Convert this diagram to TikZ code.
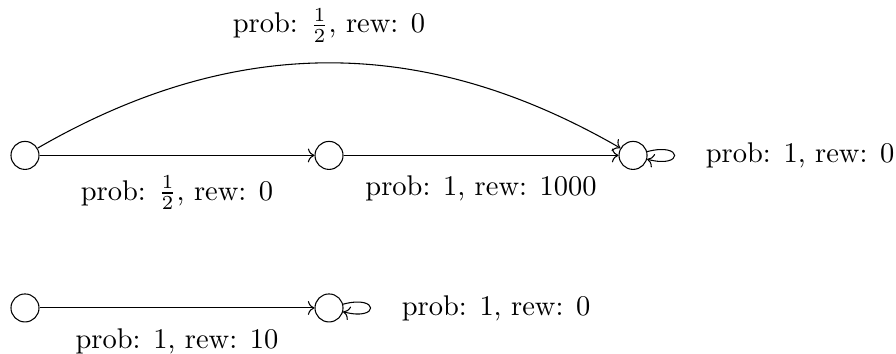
\documentclass[tikz,border=0pt]{standalone}
\usepackage{xcolor}
\usepackage{tikz}
\usetikzlibrary{arrows.meta,positioning}

\begin{document}
\begin{tikzpicture}[
  node distance=1.63cm and 3.63cm,
  st/.style={draw, circle, minimum size=0.37cm, inner sep=0pt},
  lab/.style={scale=1.07},
  move/.style={->},
  selfloop/.style={->, loop right}
]
\node[st] (b0) {};
\node[st, right=of b0] (b1) {};
\node[st, above=of b0] (a0) {};
\node[st, right=of a0] (a1) {};
\node[st, right=of a1] (a2) {};
\path[use as bounding box] (b0.center) ++(-0.33,-0.607) rectangle ++(11.83,4.673);
% upper chain
\draw[move] (a0) -- node[lab, below=4pt] {prob: $\frac{1}{2}$, rew: 0} (a1);
\draw[move] (a1) -- node[lab, below=4pt] {prob: 1, rew: 1000} (a2);
\draw[move] (a0) to[bend left=30] node[lab, above=4pt] {prob: $\frac{1}{2}$, rew: 0} (a2);
\draw[selfloop] (a2) to node[lab, right=8pt] {prob: 1, rew: 0} (a2);
% lower chain
\draw[move] (b0) -- node[lab, below=4pt] {prob: 1, rew: 10} (b1);
\draw[selfloop] (b1) to node[lab, right=8pt] {prob: 1, rew: 0} (b1);
\end{tikzpicture}
\end{document}
